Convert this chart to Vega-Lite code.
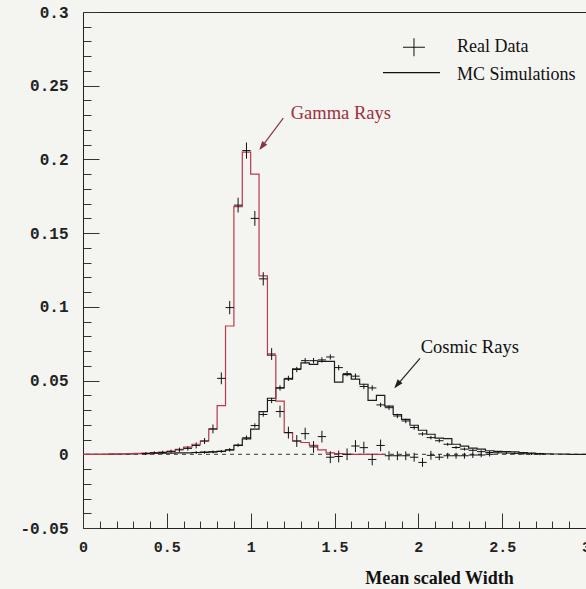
{
  "$schema": "https://vega.github.io/schema/vega-lite/v6.json",
  "width": 503,
  "height": 516,
  "autosize": {"type": "none"},
  "padding": {"left": 83, "top": 12, "right": 0, "bottom": 61},
  "background": "#f4f4f1",
  "config": {
    "view": {"stroke": "#222222", "strokeWidth": 1, "fill": "#f4f4f1"},
    "axis": {"grid": false, "domain": false}
  },
  "datasets": {
    "cosmicMC": [
      {"x": 0, "y": 0}, {"x": 0.05, "y": 0}, {"x": 0.1, "y": 0}, {"x": 0.15, "y": 0.0001},
      {"x": 0.2, "y": 0.0002}, {"x": 0.25, "y": 0.0003}, {"x": 0.3, "y": 0.0004}, {"x": 0.35, "y": 0.0005},
      {"x": 0.4, "y": 0.0006}, {"x": 0.45, "y": 0.0007}, {"x": 0.5, "y": 0.0008}, {"x": 0.55, "y": 0.0009},
      {"x": 0.6, "y": 0.001}, {"x": 0.65, "y": 0.0012}, {"x": 0.7, "y": 0.0014}, {"x": 0.75, "y": 0.0017},
      {"x": 0.8, "y": 0.002}, {"x": 0.85, "y": 0.003}, {"x": 0.9, "y": 0.006}, {"x": 0.95, "y": 0.0105},
      {"x": 1.0, "y": 0.017}, {"x": 1.05, "y": 0.029}, {"x": 1.1, "y": 0.038}, {"x": 1.15, "y": 0.045},
      {"x": 1.2, "y": 0.051}, {"x": 1.25, "y": 0.058}, {"x": 1.3, "y": 0.062}, {"x": 1.35, "y": 0.061},
      {"x": 1.4, "y": 0.063}, {"x": 1.45, "y": 0.063}, {"x": 1.5, "y": 0.049}, {"x": 1.55, "y": 0.054},
      {"x": 1.6, "y": 0.051}, {"x": 1.65, "y": 0.0475}, {"x": 1.7, "y": 0.0366}, {"x": 1.75, "y": 0.04},
      {"x": 1.8, "y": 0.0327}, {"x": 1.85, "y": 0.027}, {"x": 1.9, "y": 0.0237}, {"x": 1.95, "y": 0.0197},
      {"x": 2.0, "y": 0.0163}, {"x": 2.05, "y": 0.0136}, {"x": 2.1, "y": 0.011}, {"x": 2.15, "y": 0.0106},
      {"x": 2.2, "y": 0.0068}, {"x": 2.25, "y": 0.0055}, {"x": 2.3, "y": 0.0042}, {"x": 2.35, "y": 0.0035},
      {"x": 2.4, "y": 0.0024}, {"x": 2.45, "y": 0.002}, {"x": 2.5, "y": 0.0018}, {"x": 2.55, "y": 0.0016},
      {"x": 2.6, "y": 0.0012}, {"x": 2.65, "y": 0.0008}, {"x": 2.7, "y": 0.0005}, {"x": 2.75, "y": 0.0003},
      {"x": 2.8, "y": 0.0002}, {"x": 2.85, "y": 0.0001}, {"x": 2.9, "y": 0}, {"x": 2.95, "y": 0},
      {"x": 3.0, "y": 0}
    ],
    "gammaMC": [
      {"x": 0, "y": 0}, {"x": 0.05, "y": 0}, {"x": 0.1, "y": 0}, {"x": 0.15, "y": 0.0001},
      {"x": 0.2, "y": 0.0002}, {"x": 0.25, "y": 0.0004}, {"x": 0.3, "y": 0.0006}, {"x": 0.35, "y": 0.0008},
      {"x": 0.4, "y": 0.001}, {"x": 0.45, "y": 0.0015}, {"x": 0.5, "y": 0.002}, {"x": 0.55, "y": 0.0034},
      {"x": 0.6, "y": 0.0048}, {"x": 0.65, "y": 0.0068}, {"x": 0.7, "y": 0.009}, {"x": 0.75, "y": 0.017},
      {"x": 0.8, "y": 0.033}, {"x": 0.85, "y": 0.087}, {"x": 0.9, "y": 0.168}, {"x": 0.95, "y": 0.205},
      {"x": 1.0, "y": 0.19}, {"x": 1.05, "y": 0.121}, {"x": 1.1, "y": 0.067}, {"x": 1.15, "y": 0.036},
      {"x": 1.2, "y": 0.0147}, {"x": 1.25, "y": 0.009}, {"x": 1.3, "y": 0.008}, {"x": 1.35, "y": 0.006},
      {"x": 1.4, "y": 0.003}, {"x": 1.45, "y": 0.001}, {"x": 1.5, "y": 0.0005}, {"x": 1.55, "y": 0},
      {"x": 1.6, "y": 0}, {"x": 1.65, "y": 0}, {"x": 1.7, "y": 0}, {"x": 1.75, "y": 0},
      {"x": 1.8, "y": 0}
    ],
    "realData": [
      {"x": 0.375, "y": 0.0005, "e": 0.001}, {"x": 0.425, "y": 0.001, "e": 0.001},
      {"x": 0.475, "y": 0.0012, "e": 0.0012}, {"x": 0.525, "y": 0.002, "e": 0.0012},
      {"x": 0.575, "y": 0.003, "e": 0.0015}, {"x": 0.625, "y": 0.004, "e": 0.0015},
      {"x": 0.675, "y": 0.006, "e": 0.002}, {"x": 0.725, "y": 0.009, "e": 0.002},
      {"x": 0.775, "y": 0.0172, "e": 0.003}, {"x": 0.825, "y": 0.0515, "e": 0.004},
      {"x": 0.875, "y": 0.0995, "e": 0.0045}, {"x": 0.925, "y": 0.169, "e": 0.005},
      {"x": 0.975, "y": 0.206, "e": 0.0055}, {"x": 1.025, "y": 0.16, "e": 0.005},
      {"x": 1.075, "y": 0.119, "e": 0.0045}, {"x": 1.125, "y": 0.068, "e": 0.004},
      {"x": 1.175, "y": 0.029, "e": 0.004}, {"x": 1.225, "y": 0.0147, "e": 0.004},
      {"x": 1.275, "y": 0.009, "e": 0.004}, {"x": 1.325, "y": 0.014, "e": 0.004},
      {"x": 1.375, "y": 0.005, "e": 0.004}, {"x": 1.425, "y": 0.012, "e": 0.004},
      {"x": 1.475, "y": -0.002, "e": 0.004}, {"x": 1.525, "y": -0.0015, "e": 0.004},
      {"x": 1.575, "y": 0.0, "e": 0.004}, {"x": 1.625, "y": 0.0056, "e": 0.004},
      {"x": 1.675, "y": 0.0045, "e": 0.004}, {"x": 1.725, "y": -0.0035, "e": 0.004},
      {"x": 1.775, "y": 0.006, "e": 0.004}, {"x": 1.825, "y": -0.001, "e": 0.003},
      {"x": 1.875, "y": -0.001, "e": 0.003}, {"x": 1.925, "y": -0.001, "e": 0.003},
      {"x": 1.975, "y": -0.002, "e": 0.003}, {"x": 2.025, "y": -0.0055, "e": 0.003},
      {"x": 2.075, "y": -0.0007, "e": 0.003}, {"x": 2.125, "y": -0.002, "e": 0.002},
      {"x": 2.175, "y": -0.001, "e": 0.002}, {"x": 2.225, "y": -0.001, "e": 0.002},
      {"x": 2.275, "y": -0.001, "e": 0.002}, {"x": 2.325, "y": -0.0005, "e": 0.002},
      {"x": 2.375, "y": -0.0005, "e": 0.0015}, {"x": 2.425, "y": 0.0, "e": 0.0015},
      {"x": 0.675, "y": 0.0012, "e": 0.001}, {"x": 0.725, "y": 0.0013, "e": 0.001},
      {"x": 0.775, "y": 0.0016, "e": 0.001}, {"x": 0.825, "y": 0.002, "e": 0.001},
      {"x": 0.875, "y": 0.003, "e": 0.0012}, {"x": 0.925, "y": 0.0062, "e": 0.0012},
      {"x": 0.975, "y": 0.0112, "e": 0.0015}, {"x": 1.025, "y": 0.0195, "e": 0.0015},
      {"x": 1.075, "y": 0.027, "e": 0.0015}, {"x": 1.125, "y": 0.0365, "e": 0.0018},
      {"x": 1.175, "y": 0.045, "e": 0.0018}, {"x": 1.225, "y": 0.0515, "e": 0.0018},
      {"x": 1.275, "y": 0.0575, "e": 0.0018}, {"x": 1.325, "y": 0.0635, "e": 0.0018},
      {"x": 1.375, "y": 0.0635, "e": 0.0018}, {"x": 1.425, "y": 0.064, "e": 0.0018},
      {"x": 1.475, "y": 0.066, "e": 0.0018}, {"x": 1.525, "y": 0.0588, "e": 0.0018},
      {"x": 1.575, "y": 0.0547, "e": 0.0018}, {"x": 1.625, "y": 0.053, "e": 0.0018},
      {"x": 1.675, "y": 0.046, "e": 0.0018}, {"x": 1.725, "y": 0.045, "e": 0.0018},
      {"x": 1.775, "y": 0.0335, "e": 0.0015}, {"x": 1.825, "y": 0.0316, "e": 0.0015},
      {"x": 1.875, "y": 0.026, "e": 0.0015}, {"x": 1.925, "y": 0.0226, "e": 0.0015},
      {"x": 1.975, "y": 0.0182, "e": 0.0015}, {"x": 2.025, "y": 0.0138, "e": 0.0012},
      {"x": 2.075, "y": 0.0113, "e": 0.0012}, {"x": 2.125, "y": 0.0092, "e": 0.0012},
      {"x": 2.175, "y": 0.0068, "e": 0.001}, {"x": 2.225, "y": 0.0046, "e": 0.001},
      {"x": 2.275, "y": 0.0035, "e": 0.001}, {"x": 2.325, "y": 0.0027, "e": 0.001},
      {"x": 2.375, "y": 0.0018, "e": 0.001}, {"x": 2.425, "y": 0.0012, "e": 0.001},
      {"x": 2.475, "y": 0.001, "e": 0.0008}, {"x": 2.525, "y": 0.0008, "e": 0.0008},
      {"x": 2.575, "y": 0.0006, "e": 0.0008}, {"x": 2.625, "y": 0.0004, "e": 0.0008},
      {"x": 2.675, "y": 0.0003, "e": 0.0008}, {"x": 2.725, "y": 0.0002, "e": 0.0008}
    ]
  },
  "layer": [
    {
      "data": {"values": [{}]},
      "mark": {"type": "rule", "color": "#333333", "strokeWidth": 1, "strokeDash": [4, 4]},
      "encoding": {
        "y": {"datum": 0, "type": "quantitative", "scale": {"domain": [-0.05, 0.3], "nice": false, "zero": false}, "axis": null}
      }
    },
    {
      "data": {"name": "cosmicMC"},
      "mark": {"type": "line", "interpolate": "step-after", "color": "#1c1c1c", "strokeWidth": 1.2},
      "encoding": {
        "x": {
          "field": "x", "type": "quantitative",
          "scale": {"domain": [0, 3], "nice": false, "zero": false},
          "axis": {
            "orient": "bottom", "ticks": false, "values": [0, 0.5, 1, 1.5, 2, 2.5, 3],
            "labelExpr": "toString(datum.value)", "labelFlush": false, "labelBound": false, "labelOverlap": false,
            "labelFont": "Liberation Mono", "labelFontWeight": "bold", "labelFontSize": 15, "labelColor": "#222222",
            "labelPadding": 11,
            "title": "Mean scaled Width", "titleFont": "Liberation Serif", "titleFontWeight": "bold",
            "titleFontSize": 18, "titleColor": "#111111", "titleAlign": "center", "titleAnchor": null,
            "titleBaseline": "alphabetic", "titleX": 356, "titleY": 55
          }
        },
        "y": {
          "field": "y", "type": "quantitative",
          "scale": {"domain": [-0.05, 0.3], "nice": false, "zero": false},
          "axis": {
            "orient": "left", "ticks": false, "values": [-0.05, 0, 0.05, 0.1, 0.15, 0.2, 0.25, 0.3],
            "labelExpr": "toString(datum.value)", "labelFlush": false, "labelBound": false, "labelOverlap": false,
            "labelFont": "Liberation Mono", "labelFontWeight": "bold", "labelFontSize": 16, "labelColor": "#222222",
            "labelPadding": 15, "title": null
          }
        }
      }
    },
    {
      "data": {"name": "gammaMC"},
      "mark": {"type": "line", "interpolate": "step-after", "color": "#b83a4b", "strokeWidth": 1.2},
      "encoding": {
        "x": {
          "field": "x", "type": "quantitative",
          "scale": {"domain": [0, 3], "nice": false, "zero": false},
          "axis": {
            "orient": "bottom", "labels": false, "title": null, "tickColor": "#333333", "tickWidth": 1,
            "values": [0, 0.1, 0.2, 0.3, 0.4, 0.5, 0.6, 0.7, 0.8, 0.9, 1, 1.1, 1.2, 1.3, 1.4, 1.5, 1.6, 1.7, 1.8, 1.9, 2, 2.1, 2.2, 2.3, 2.4, 2.5, 2.6, 2.7, 2.8, 2.9, 3],
            "tickSize": {"condition": {"test": "abs(datum.value * 2 - round(datum.value * 2)) < 0.01", "value": -15}, "value": -7}
          }
        },
        "y": {
          "field": "y", "type": "quantitative",
          "scale": {"domain": [-0.05, 0.3], "nice": false, "zero": false},
          "axis": {
            "orient": "left", "labels": false, "title": null, "tickColor": "#333333", "tickWidth": 1,
            "values": [-0.05, -0.04, -0.03, -0.02, -0.01, 0, 0.01, 0.02, 0.03, 0.04, 0.05, 0.06, 0.07, 0.08, 0.09, 0.1, 0.11, 0.12, 0.13, 0.14, 0.15, 0.16, 0.17, 0.18, 0.19, 0.2, 0.21, 0.22, 0.23, 0.24, 0.25, 0.26, 0.27, 0.28, 0.29, 0.3],
            "tickSize": {"condition": {"test": "abs(datum.value * 20 - round(datum.value * 20)) < 0.01", "value": -16}, "value": -8}
          }
        }
      }
    },
    {
      "data": {"name": "realData"},
      "mark": {"type": "errorbar", "color": "#111111", "rule": {"strokeWidth": 1}},
      "encoding": {
        "x": {"field": "x", "type": "quantitative", "scale": {"domain": [0, 3], "nice": false, "zero": false}, "axis": null},
        "y": {"field": "y", "type": "quantitative", "scale": {"domain": [-0.05, 0.3], "nice": false, "zero": false}, "axis": null},
        "yError": {"field": "e"}
      }
    },
    {
      "data": {"name": "realData"},
      "mark": {"type": "point", "shape": "M-1,0H1", "size": 70, "filled": false, "stroke": "#111111", "strokeWidth": 1, "opacity": 1},
      "encoding": {
        "x": {"field": "x", "type": "quantitative", "scale": {"domain": [0, 3], "nice": false, "zero": false}, "axis": null},
        "y": {"field": "y", "type": "quantitative", "scale": {"domain": [-0.05, 0.3], "nice": false, "zero": false}, "axis": null}
      }
    },
    {
      "data": {"values": [{}]},
      "mark": {"type": "point", "shape": "M-1,0H1M0,-0.82V0.82", "size": 484, "filled": false, "stroke": "#111111", "strokeWidth": 1, "opacity": 1},
      "encoding": {
        "x": {"datum": 1.974, "type": "quantitative", "scale": {"domain": [0, 3], "nice": false, "zero": false}, "axis": null},
        "y": {"datum": 0.2761, "type": "quantitative", "scale": {"domain": [-0.05, 0.3], "nice": false, "zero": false}, "axis": null}
      }
    },
    {
      "data": {"values": [{}]},
      "mark": {"type": "rule", "color": "#111111", "strokeWidth": 1.2},
      "encoding": {
        "x": {"datum": 1.789, "type": "quantitative", "scale": {"domain": [0, 3], "nice": false, "zero": false}, "axis": null},
        "x2": {"datum": 2.129},
        "y": {"datum": 0.2589, "type": "quantitative", "scale": {"domain": [-0.05, 0.3], "nice": false, "zero": false}, "axis": null}
      }
    },
    {
      "data": {"values": [{}]},
      "mark": {"type": "text", "text": "Real Data", "align": "left", "baseline": "alphabetic", "font": "Liberation Serif", "fontSize": 18, "color": "#111111"},
      "encoding": {
        "x": {"datum": 2.2306, "type": "quantitative", "scale": {"domain": [0, 3], "nice": false, "zero": false}, "axis": null},
        "y": {"datum": 0.2727, "type": "quantitative", "scale": {"domain": [-0.05, 0.3], "nice": false, "zero": false}, "axis": null}
      }
    },
    {
      "data": {"values": [{}]},
      "mark": {"type": "text", "text": "MC Simulations", "align": "left", "baseline": "alphabetic", "font": "Liberation Serif", "fontSize": 18, "color": "#111111"},
      "encoding": {
        "x": {"datum": 2.2306, "type": "quantitative", "scale": {"domain": [0, 3], "nice": false, "zero": false}, "axis": null},
        "y": {"datum": 0.2539, "type": "quantitative", "scale": {"domain": [-0.05, 0.3], "nice": false, "zero": false}, "axis": null}
      }
    },
    {
      "data": {"values": [{}]},
      "mark": {"type": "text", "text": "Gamma Rays", "align": "left", "baseline": "alphabetic", "font": "Liberation Serif", "fontSize": 18.5, "color": "#9e2f3f"},
      "encoding": {
        "x": {"datum": 1.2387, "type": "quantitative", "scale": {"domain": [0, 3], "nice": false, "zero": false}, "axis": null},
        "y": {"datum": 0.2275, "type": "quantitative", "scale": {"domain": [-0.05, 0.3], "nice": false, "zero": false}, "axis": null}
      }
    },
    {
      "data": {"values": [{}]},
      "mark": {"type": "rule", "color": "#8a3340", "strokeWidth": 1.2},
      "encoding": {
        "x": {"datum": 1.1946, "type": "quantitative", "scale": {"domain": [0, 3], "nice": false, "zero": false}, "axis": null},
        "x2": {"datum": 1.058},
        "y": {"datum": 0.228, "type": "quantitative", "scale": {"domain": [-0.05, 0.3], "nice": false, "zero": false}, "axis": null},
        "y2": {"datum": 0.2073}
      }
    },
    {
      "data": {"values": [{}]},
      "mark": {"type": "point", "shape": "M0,0L-0.35,1L0.35,1Z", "size": 324, "filled": true, "color": "#8a3340", "opacity": 1, "angle": 217},
      "encoding": {
        "x": {"datum": 1.0515, "type": "quantitative", "scale": {"domain": [0, 3], "nice": false, "zero": false}, "axis": null},
        "y": {"datum": 0.2064, "type": "quantitative", "scale": {"domain": [-0.05, 0.3], "nice": false, "zero": false}, "axis": null}
      }
    },
    {
      "data": {"values": [{}]},
      "mark": {"type": "text", "text": "Cosmic Rays", "align": "left", "baseline": "alphabetic", "font": "Liberation Serif", "fontSize": 18.5, "color": "#111111"},
      "encoding": {
        "x": {"datum": 2.014, "type": "quantitative", "scale": {"domain": [0, 3], "nice": false, "zero": false}, "axis": null},
        "y": {"datum": 0.0687, "type": "quantitative", "scale": {"domain": [-0.05, 0.3], "nice": false, "zero": false}, "axis": null}
      }
    },
    {
      "data": {"values": [{}]},
      "mark": {"type": "rule", "color": "#222222", "strokeWidth": 1.2},
      "encoding": {
        "x": {"datum": 2.0099, "type": "quantitative", "scale": {"domain": [0, 3], "nice": false, "zero": false}, "axis": null},
        "x2": {"datum": 1.863},
        "y": {"datum": 0.0651, "type": "quantitative", "scale": {"domain": [-0.05, 0.3], "nice": false, "zero": false}, "axis": null},
        "y2": {"datum": 0.0456}
      }
    },
    {
      "data": {"values": [{}]},
      "mark": {"type": "point", "shape": "M0,0L-0.35,1L0.35,1Z", "size": 324, "filled": true, "color": "#222222", "opacity": 1, "angle": 220},
      "encoding": {
        "x": {"datum": 1.8566, "type": "quantitative", "scale": {"domain": [0, 3], "nice": false, "zero": false}, "axis": null},
        "y": {"datum": 0.0448, "type": "quantitative", "scale": {"domain": [-0.05, 0.3], "nice": false, "zero": false}, "axis": null}
      }
    }
  ],
  "resolve": {"axis": {"x": "independent", "y": "independent"}}
}
